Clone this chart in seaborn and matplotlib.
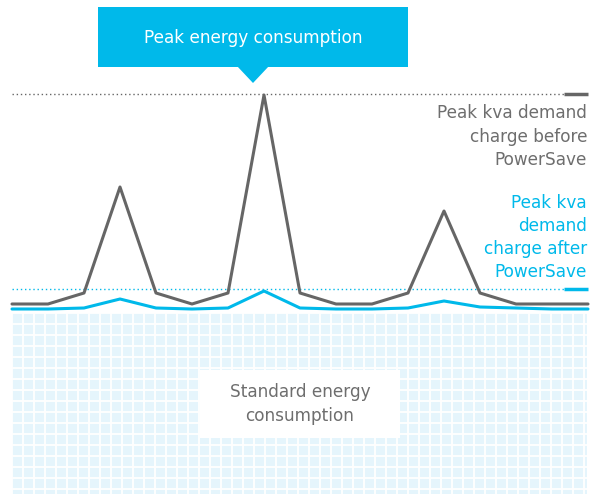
import numpy as np
import pandas as pd
import seaborn as sns
import matplotlib
matplotlib.use("Agg")
import matplotlib.pyplot as plt
from matplotlib.patches import Rectangle, Polygon

# ---- data (kVA-like units) ----
intervals = list(range(17))
before_powersave = [9, 9, 20, 126, 20, 9, 20, 218, 20, 9, 9, 20, 102, 20, 9, 9, 9]
after_powersave = [4, 4, 5, 14, 5, 4, 5, 22, 5, 4, 4, 5, 12, 6, 5, 4, 4]
peak_before = 219
peak_after = 24
standard_floor = -181

title_text = "Peak energy consumption"
before_label = ["Peak kva demand", "charge before", "PowerSave"]
after_label = ["Peak kva", "demand", "charge after", "PowerSave"]
standard_label = ["Standard energy", "consumption"]

BLUE = "#00B9EA"
GRAY = "#666666"
TEXT_GRAY = "#6E6E6E"
CELL = "#E5F5FC"
FS = 12.2

sns.set_theme(style="white")
plt.rcParams["font.family"] = ["DejaVu Sans"]

df = pd.DataFrame({
    "interval": intervals * 2,
    "kva": before_powersave + after_powersave,
    "series": ["before"] * len(intervals) + ["after"] * len(intervals),
})

fig = plt.figure(figsize=(5.98, 4.94), dpi=100)
ax = fig.add_axes([0, 0, 1, 1])
# px = 12 + 36*i ; py = 313 - v
XL = (-12 / 36, 586 / 36)
YL = (313 - 494, 313)

# grid of standard consumption cells
x0, x1 = 0, (587 - 12) / 36
ax.add_patch(Rectangle((x0, standard_floor), x1 - x0, -standard_floor, color=CELL, lw=0, zorder=0))
cw = 11 / 36
for k in range(0, 53):
    xv = x0 + k * cw
    if xv <= x1:
        ax.plot([xv, xv], [standard_floor, 0], color="white", lw=1.3, zorder=1, solid_capstyle="butt")
for k in range(0, 17):
    yv = -k * 11
    ax.plot([x0, x1], [yv, yv], color="white", lw=1.3, zorder=1, solid_capstyle="butt")

# white box for standard label
ax.add_patch(Rectangle(((200 - 12) / 36, 313 - 438), 200 / 36, 68, color="white", lw=0, zorder=2))
ax.text((300 - 12) / 36, 313 - 392, standard_label[0], ha="center", va="center",
        color=TEXT_GRAY, fontsize=FS, zorder=3)
ax.text((300 - 12) / 36, 313 - 416, standard_label[1], ha="center", va="center",
        color=TEXT_GRAY, fontsize=FS, zorder=3)

# threshold dotted lines and end markers
xd_end = (564 - 12) / 36
xe = (588 - 12) / 36
ax.plot([0, xd_end], [peak_before, peak_before], color=GRAY, lw=1, ls=(0, (1, 2)), zorder=2)
ax.plot([xd_end, xe], [peak_before, peak_before], color=GRAY, lw=2.5, zorder=2, solid_capstyle="butt")
ax.plot([0, xd_end], [peak_after, peak_after], color=BLUE, lw=1, ls=(0, (1, 2)), zorder=2)
ax.plot([xd_end, xe], [peak_after, peak_after], color=BLUE, lw=2.5, zorder=2, solid_capstyle="butt")

# lines
sns.lineplot(data=df, x="interval", y="kva", hue="series",
             palette={"before": GRAY, "after": BLUE}, linewidth=2.2,
             legend=False, ax=ax, zorder=4)
ax.set_xlim(*XL)
ax.set_ylim(*YL)
ax.axis("off")

# series labels
tx = (587 - 12) / 36
for line, py in zip(before_label, [113, 137, 160]):
    ax.text(tx, 313 - py, line, ha="right", va="center", color=TEXT_GRAY, fontsize=FS)
for line, py in zip(after_label, [203, 226, 249, 272]):
    ax.text(tx, 313 - py, line, ha="right", va="center", color=BLUE, fontsize=FS)

# callout box
bx0, bx1 = (98 - 12) / 36, (408 - 12) / 36
ax.add_patch(Rectangle((bx0, 313 - 67), bx1 - bx0, 60, color=BLUE, lw=0, zorder=5))
ax.add_patch(Polygon([((237 - 12) / 36, 313 - 66), ((269 - 12) / 36, 313 - 66),
                      ((253 - 12) / 36, 313 - 83)], closed=True, color=BLUE, lw=0, zorder=5))
ax.text((253 - 12) / 36, 313 - 38, title_text, ha="center", va="center",
        color="white", fontsize=FS, zorder=6)

fig.savefig("out.png", dpi=100)
